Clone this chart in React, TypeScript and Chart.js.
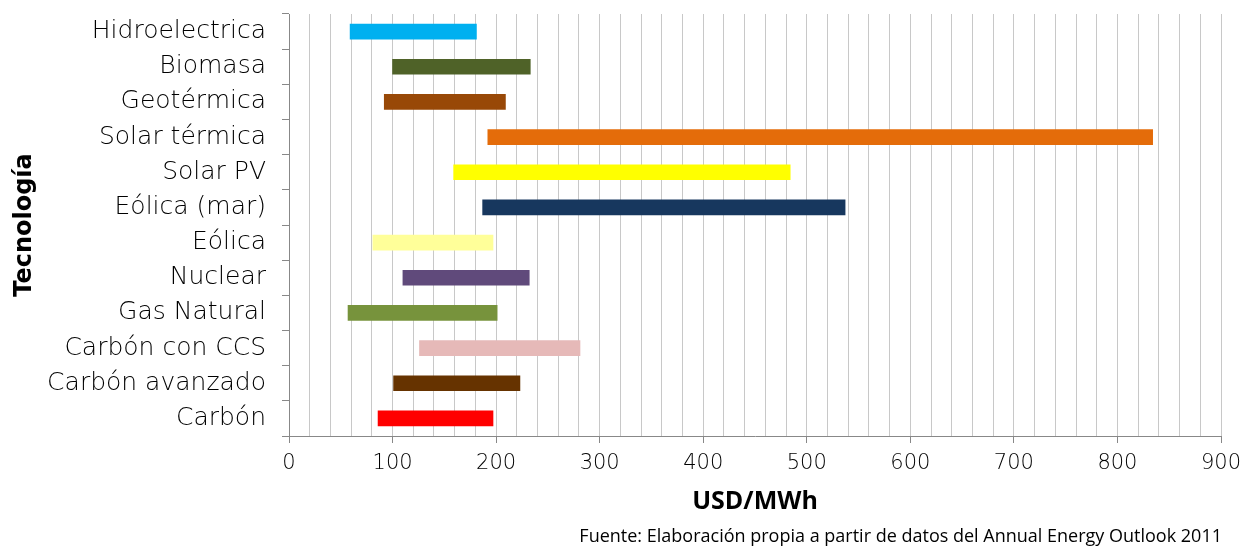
import React, { useEffect, useRef } from "react";
import { Chart, registerables } from "chart.js";

Chart.register(...registerables);

const categories = [
  "Hidroelectrica",
  "Biomasa",
  "Geotérmica",
  "Solar térmica",
  "Solar PV",
  "Eólica (mar)",
  "Eólica",
  "Nuclear",
  "Gas Natural",
  "Carbón con CCS",
  "Carbón avanzado",
  "Carbón",
];
const minValues = [59, 100, 92, 192, 159, 187, 81, 110, 57, 126, 101, 86];
const maxValues = [181, 233, 209, 834, 484, 537, 197, 232, 201, 281, 223, 197];
const barColors = [
  "#00B0F0",
  "#4F6228",
  "#984807",
  "#E46C0A",
  "#FFFF00",
  "#17375E",
  "#FFFF99",
  "#604A7B",
  "#77933C",
  "#E6B9B8",
  "#663300",
  "#FF0000",
];
const xTitle = "USD/MWh";
const yTitle = "Tecnología";
const sourceNote = "Fuente: Elaboración propia a partir de datos del Annual Energy Outlook 2011";

const labelFont = "'DejaVu Sans', sans-serif";

export default function App() {
  const canvasRef = useRef<HTMLCanvasElement | null>(null);

  useEffect(() => {
    if (!canvasRef.current) return;
    const chart = new Chart(canvasRef.current, {
      type: "bar",
      data: {
        labels: categories,
        datasets: [
          {
            data: categories.map((_, i) => [minValues[i], maxValues[i]]) as any,
            backgroundColor: barColors,
            borderWidth: 0,
            barThickness: 15,
          },
        ],
      },
      options: {
        indexAxis: "y",
        animation: false,
        responsive: false,
        layout: { padding: { left: 0, top: 14, right: 23, bottom: 0 } },
        plugins: {
          legend: { display: false },
          tooltip: { enabled: false },
        },
        scales: {
          x: {
            type: "linear",
            min: 0,
            max: 900,
            afterFit: (s: any) => {
              s.height = 110;
              s.paddingLeft = 0;
              s.paddingRight = 0;
            },
            ticks: {
              stepSize: 20,
              autoSkip: false,
              maxRotation: 0,
              padding: 8,
              color: "#000",
              font: { family: labelFont, size: 21, weight: "300" as any },
              callback: (v: any) => (Number(v) % 100 === 0 ? String(v) : ""),
            },
            grid: {
              color: "#C8C8C8",
              lineWidth: 1,
              tickLength: 7,
              tickColor: (ctx: any) =>
                ctx.tick && ctx.tick.value % 100 === 0 ? "#888888" : "rgba(0,0,0,0)",
            },
            border: { color: "#888888", width: 1 },
            title: {
              display: true,
              text: xTitle,
              color: "#000",
              font: { family: "'Open Sans', sans-serif", size: 25, weight: "bold" },
              padding: { top: 0, bottom: 29 },
            },
          },
          y: {
            type: "category",
            offset: true,
            afterFit: (s: any) => {
              s.width = 289;
              s.paddingTop = 0;
              s.paddingBottom = 0;
            },
            ticks: {
              padding: 16,
              color: "#000",
              font: { family: labelFont, size: 25, weight: "300" as any },
            },
            grid: {
              offset: true,
              drawOnChartArea: false,
              tickLength: 7,
              tickColor: "#888888",
            },
            border: { color: "#888888", width: 1 },
            title: {
              display: true,
              text: yTitle,
              color: "#000",
              font: { family: "'DejaVu Sans', sans-serif", size: 24, weight: "bold" },
              padding: { top: 10, bottom: 0 },
            },
          },
        },
      },
    });
    return () => chart.destroy();
  }, []);

  return (
    <div style={{ position: "absolute", left: 0, top: 0, width: 1244, height: 546, background: "#fff" }}>
      <canvas ref={canvasRef} width={1244} height={546} />
      <div
        style={{
          position: "absolute",
          right: 22,
          top: 523,
          fontFamily: "'Open Sans', sans-serif",
          fontSize: 18,
          lineHeight: "24px",
          color: "#000",
          whiteSpace: "nowrap",
        }}
      >
        {sourceNote}
      </div>
    </div>
  );
}
